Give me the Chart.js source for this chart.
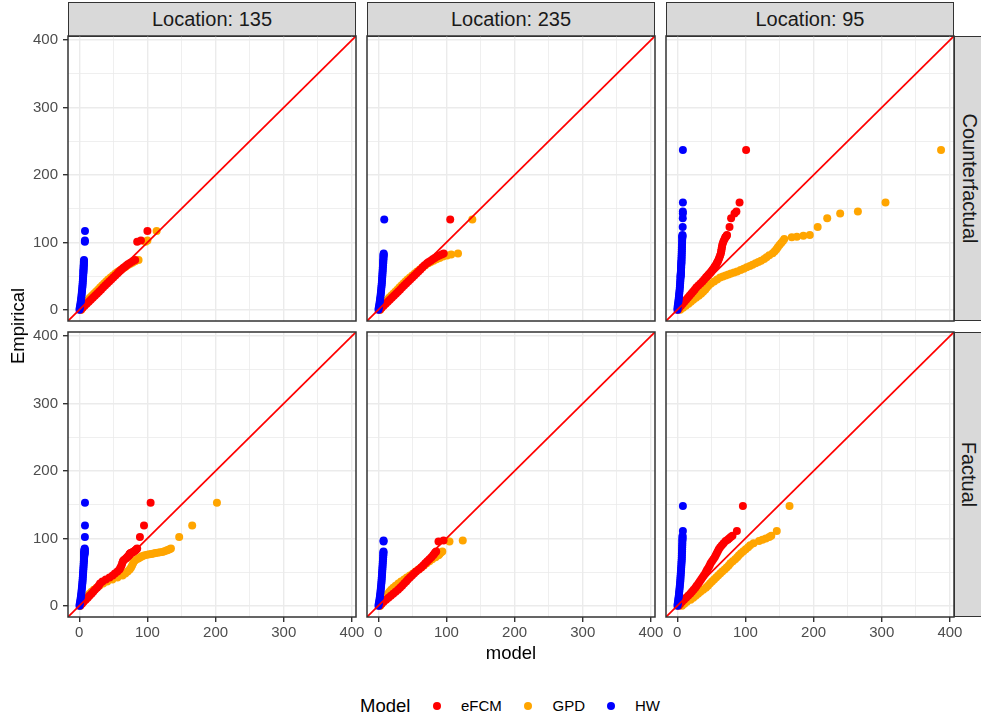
<!DOCTYPE html>
<html>
<head>
<meta charset="utf-8">
<title>Empirical vs model quantiles by location</title>
<script src="https://cdn.jsdelivr.net/npm/chart.js@4.4.0/dist/chart.umd.min.js"></script>
<style>
  body { margin: 0; background: #fff; }
  #figure {
    position: relative; width: 981px; height: 719px; overflow: hidden;
    font-family: "Liberation Sans", Arial, Helvetica, sans-serif;
  }
  .panel { position: absolute; }
  .strip {
    position: absolute; box-sizing: border-box;
    background: #d9d9d9; border: 1.5px solid #333333;
    color: #1a1a1a; font-size: 20px;
    display: flex; align-items: center; justify-content: center;
  }
  .strip span { white-space: nowrap; }
  .strip.right span { transform: rotate(90deg); }
  .label { position: absolute; white-space: nowrap; color: #000; }
  .dot { position: absolute; width: 8px; height: 8px; border-radius: 50%; }
</style>
</head>
<body>
<div id="figure"></div>
<script>
// facets and models
const locations = ["135", "235", "95"];
const scenarios = ["Counterfactual", "Factual"];
const modelNames = ["eFCM", "GPD", "HW"];

// axis ticks (shared by every panel)
const majorTicks = [0, 100, 200, 300, 400];
const minorTicks = [50, 150, 250, 350];

// ---- Location 135, Counterfactual: empirical quantiles and model quantiles
const emp_135_cf  = [0, 3, 6, 9, 12, 15, 18, 21, 24, 27, 30, 33, 36, 39, 42, 45, 48, 51, 54,
                     56, 58, 60, 62, 64, 66, 68, 70, 72, 74, 101, 103, 117];
const efcm_135_cf = [2, 5, 8, 11, 14, 17, 20, 23, 26, 29, 32, 35, 38, 41, 44, 47, 50, 53, 56,
                     58, 60, 62, 64.5, 67, 69.5, 72, 75, 78.5, 82, 85, 90.5, 100];
const gpd_135_cf  = [3, 4.5, 6.5, 8.5, 10.5, 13, 15.5, 18.5, 21.5, 24.5, 27.5, 30.5, 33.5, 36.5, 39.5, 42.5, 46, 49.5, 53,
                     56, 59, 62, 65, 68, 71, 74.5, 78, 82, 87, 97, 100, 113.5];
const hw_135_cf   = [0.3, 0.8, 1.3, 1.8, 2.2, 2.6, 3.0, 3.3, 3.6, 3.9, 4.2, 4.5, 4.8, 5.0, 5.2, 5.4, 5.6, 5.8, 6.0,
                     6.1, 6.2, 6.3, 6.4, 6.5, 6.6, 6.7, 6.8, 6.9, 7.0, 8.2, 8.3, 8.4];

// ---- Location 235, Counterfactual
const emp_235_cf  = [0, 3, 6, 9, 12, 15, 18, 21, 24, 27, 30, 33, 36, 39, 42, 45, 48, 51, 54, 57, 60, 63, 66, 69,
                     71, 73, 75, 77, 79, 80.5, 82, 83.5, 134];
const efcm_235_cf = [2, 5, 8, 11, 14, 17, 20, 23, 26, 29, 32, 35, 38, 41, 44, 47, 50, 53, 56, 59, 62, 65, 68, 71.5,
                     74, 77, 80, 83, 86.5, 89.5, 93, 96, 105.6];
const gpd_235_cf  = [3, 4.5, 6.5, 8.5, 11, 13.5, 16, 19, 22, 25, 28, 31, 34, 37, 40, 43, 46.5, 50, 53.5, 57, 61, 65, 69, 73.5,
                     77, 81, 85.5, 90, 95, 101, 107, 117, 138];
const hw_235_cf   = [0.3, 0.8, 1.3, 1.8, 2.2, 2.6, 3.0, 3.4, 3.7, 4.0, 4.3, 4.6, 4.9, 5.2, 5.4, 5.6, 5.8, 6.0, 6.2, 6.4, 6.6, 6.8, 7.0, 7.2,
                     7.3, 7.4, 7.5, 7.6, 7.7, 7.8, 7.9, 8.0, 8.8];

// ---- Location 95, Counterfactual
const emp_95_cf  = [0, 3, 6, 9, 12, 15, 18, 21, 24, 27, 30, 33, 36, 39, 42, 45, 48,
                    49.5, 51, 52.5, 54, 55.5, 57,
                    59, 61, 63, 65, 67, 69, 71, 73,
                    75.5, 78, 81, 84, 87, 90, 93, 96, 99, 102, 105,
                    107.5, 108.5, 110, 111,
                    123, 136, 143, 146, 159, 237];
const efcm_95_cf = [1, 3, 5.5, 8, 10.5, 13, 15.5, 18, 20.5, 23, 25.5, 28, 31, 34, 37, 39.5, 42,
                    43.5, 45, 46, 47.5, 49, 50,
                    51.5, 53, 54.5, 55.5, 57, 58, 59, 60,
                    61, 62, 63, 64, 64.5, 65, 65.5, 66, 67, 68, 69.5,
                    70.5, 71.5, 72.5, 73,
                    76.7, 79, 84, 86.8, 91.4, 101];
const gpd_95_cf  = [4.4, 8.5, 12.5, 16.5, 20, 23.5, 27.5, 31.5, 35, 38, 41, 43.5, 46, 49.5, 54, 58.5, 63,
                    67, 71, 75, 79, 83.5, 88,
                    93, 97.5, 102, 106.5, 110.5, 115, 119, 123,
                    127.5, 131, 135, 140, 143, 145.5, 147.5, 150, 152.5, 155, 157,
                    168, 175.5, 185, 194.5,
                    206, 220, 239, 265, 305.5, 387];
const hw_95_cf   = [0.2, 0.5, 0.8, 1.2, 1.6, 2.0, 2.3, 2.6, 2.9, 3.2, 3.5, 3.8, 4.0, 4.2, 4.4, 4.6, 4.8,
                    4.9, 5.0, 5.1, 5.2, 5.3, 5.4,
                    5.5, 5.6, 5.7, 5.8, 5.9, 6.0, 6.1, 6.2,
                    6.3, 6.4, 6.5, 6.6, 6.7, 6.8, 6.9, 7.0, 7.1, 7.2, 7.3,
                    7.4, 7.5, 7.6, 7.7,
                    8.0, 8.1, 8.2, 8.2, 8.3, 8.3];

// ---- Location 135, Factual
const emp_135_f  = [0, 3, 6, 9, 12, 15, 18, 21, 24, 27, 30, 33, 36, 39, 42, 45, 48, 51, 54, 57, 60, 63, 66,
                    68, 70, 71.5, 73, 74, 75, 75.7, 76.4, 77, 77.6, 78.2, 78.8, 79.4, 80, 81, 82, 83, 84, 85,
                    102, 119, 153];
const efcm_135_f = [1.5, 4, 6.5, 9.5, 12.5, 15, 18, 20.5, 23, 26, 28.5, 30.5, 34, 39, 44.5, 49, 52.3, 56, 59, 60.5, 62, 63, 64,
                    65.5, 68, 69.5, 71, 72, 73, 73.5, 74, 74.3, 74.5, 75.5, 77, 78, 79, 80.5, 82, 83, 84, 85,
                    89, 95, 104.7];
const gpd_135_f  = [1, 3, 5, 7, 9.5, 12, 15, 18, 21.5, 25.5, 29.5, 35, 41, 48.5, 56, 63.5, 67.5, 71, 74, 76, 77.5, 79, 80.5,
                    82.5, 86, 88.5, 91, 93, 96, 99.5, 103, 106, 109, 112, 115, 118.5, 122, 125, 128, 130, 132.5, 134.5,
                    146.6, 165.7, 202];
const hw_135_f   = [0.3, 0.8, 1.3, 1.8, 2.2, 2.6, 3.0, 3.3, 3.6, 3.9, 4.2, 4.5, 4.8, 5.0, 5.2, 5.4, 5.6, 5.8, 6.0, 6.2, 6.4, 6.6, 6.8,
                    6.9, 7.0, 7.1, 7.2, 7.25, 7.3, 7.35, 7.4, 7.45, 7.5, 7.55, 7.6, 7.65, 7.7, 7.75, 7.8, 7.85, 7.9, 8.0,
                    8.3, 8.4, 8.4];

// ---- Location 235, Factual
const emp_235_f  = [0, 3, 6, 9, 12, 15, 18, 21, 24, 27, 30, 33, 36, 39, 42, 45, 48, 51, 54, 57, 60, 63, 66, 69, 72, 75,
                    77, 79, 80.5, 95.5, 97];
const efcm_235_f = [2, 5, 8, 11.5, 15, 18.5, 22, 25.5, 29, 32, 35, 38, 41, 43.5, 46.5, 49.5, 52.5, 55.5, 59.5, 63, 66, 69, 72, 75, 78, 80.5,
                    82, 83.5, 85, 88.4, 95.8];
const gpd_235_f  = [3, 4.5, 6, 7.5, 9.5, 11.5, 14, 16.5, 19, 22, 25.5, 29.5, 33.5, 38, 42, 46.5, 51, 55, 59, 63, 67, 71, 75, 79, 84, 88.4,
                    90, 92, 94, 104.5, 124];
const hw_235_f   = [0.3, 0.8, 1.3, 1.8, 2.2, 2.6, 3.0, 3.3, 3.6, 3.9, 4.2, 4.5, 4.8, 5.0, 5.2, 5.4, 5.6, 5.8, 6.0, 6.2, 6.4, 6.6, 6.8, 7.0, 7.2, 7.4,
                    7.5, 7.6, 7.7, 7.8, 7.8];

// ---- Location 95, Factual
const emp_95_f  = [0, 3, 6, 9, 12, 15, 18, 21, 24, 27, 30, 33, 36, 39, 42, 45, 48, 51, 54, 57, 60, 63, 66, 69, 72, 75,
                   78, 81, 84, 87, 90, 93, 96, 98, 100, 102, 104, 111, 148];
const efcm_95_f = [2, 4.5, 7, 10, 13, 16, 19, 21.5, 24, 26.5, 28.5, 31, 33, 35, 37, 39, 41, 42.5, 44, 46, 47.5, 49, 51, 53, 55, 56.5,
                   58, 59.5, 61, 63, 65.5, 68, 71, 74, 76, 78.5, 81, 87.5, 96.3];
const gpd_95_f  = [7, 10.5, 14, 19.5, 23.5, 27, 30.5, 34, 38, 42, 45, 48, 51, 54, 57, 60, 63, 66, 69.5, 72.5, 75.5, 78, 81.5, 85, 88, 90.5,
                   93.5, 97, 100.5, 104, 107, 112, 120, 125, 130, 135, 138, 146, 164.7];
const hw_95_f   = [0.3, 0.7, 1.1, 1.5, 1.9, 2.3, 2.6, 2.9, 3.2, 3.5, 3.8, 4.1, 4.4, 4.6, 4.8, 5.0, 5.2, 5.4, 5.6, 5.8, 6.0, 6.2, 6.4, 6.6, 6.7, 6.8,
                   6.9, 7.0, 7.1, 7.2, 7.3, 7.4, 7.5, 7.6, 7.7, 7.75, 7.8, 8.3, 8.3];

// panels in grid order: first row counterfactual, second row factual
const panels = [
  { emp: emp_135_cf, eFCM: efcm_135_cf, GPD: gpd_135_cf, HW: hw_135_cf },
  { emp: emp_235_cf, eFCM: efcm_235_cf, GPD: gpd_235_cf, HW: hw_235_cf },
  { emp: emp_95_cf,  eFCM: efcm_95_cf,  GPD: gpd_95_cf,  HW: hw_95_cf },
  { emp: emp_135_f,  eFCM: efcm_135_f,  GPD: gpd_135_f,  HW: hw_135_f },
  { emp: emp_235_f,  eFCM: efcm_235_f,  GPD: gpd_235_f,  HW: hw_235_f },
  { emp: emp_95_f,   eFCM: efcm_95_f,   GPD: gpd_95_f,   HW: hw_95_f }
];

/* ----- layout ----- */
const colors = { eFCM: "#ff0000", GPD: "#ffa500", HW: "#0000ff" };
const AXIS_MIN = -16.5, AXIS_MAX = 406;
const PANEL_W = 288, PANEL_H = 285;
const colLeft = [68, 367, 666];
const rowTop = [36, 332];
const PAD = 14;   // room for tick labels that stick out of the plot area
const YW = 38;    // y axis band (left column only)
const XH = 30;    // x axis band (bottom row only)
const POINT_R = 4;
const FONT = "'Liberation Sans', Arial, Helvetica, sans-serif";

const gridTicks = majorTicks.concat(minorTicks).sort((a, b) => a - b);
const isMajor = (c) => c.tick && majorTicks.includes(c.tick.value);

const fig = document.getElementById("figure");

// ggplot-like panel border, drawn over the points
const framePlugin = {
  id: "panelFrame",
  afterDatasetsDraw(chart) {
    const a = chart.chartArea, ctx = chart.ctx;
    ctx.save();
    ctx.strokeStyle = "#333333";
    ctx.lineWidth = 1.5;
    ctx.strokeRect(a.left, a.top, a.right - a.left, a.bottom - a.top);
    ctx.restore();
  }
};

function axisOptions(showLabels, bandSize, horizontal) {
  return {
    type: "linear",
    min: AXIS_MIN,
    max: AXIS_MAX,
    afterBuildTicks: (axis) => { axis.ticks = gridTicks.map(v => ({ value: v })); },
    afterFit: (axis) => { if (horizontal) axis.height = bandSize; else axis.width = bandSize; },
    border: { display: false },
    grid: {
      color: "#ebebeb",
      lineWidth: (c) => isMajor(c) ? 1.4 : 0.8,
      drawTicks: showLabels,
      tickLength: 5,
      tickWidth: 1.4,
      tickColor: (c) => isMajor(c) ? "#333333" : "rgba(0,0,0,0)"
    },
    ticks: {
      display: showLabels,
      autoSkip: false,
      maxRotation: 0,
      padding: horizontal ? 2 : 5,
      color: "#4d4d4d",
      font: { family: FONT, size: 15 },
      callback: (v) => majorTicks.includes(v) ? String(v) : ""
    }
  };
}

function addLabel(text, css) {
  const d = document.createElement("div");
  d.className = "label";
  d.textContent = text;
  Object.assign(d.style, css);
  fig.appendChild(d);
  return d;
}

// strips
locations.forEach((loc, col) => {
  const s = document.createElement("div");
  s.className = "strip";
  Object.assign(s.style, { left: colLeft[col] + "px", top: "2px", width: PANEL_W + "px", height: "35px" });
  s.innerHTML = "<span>Location: " + loc + "</span>";
  fig.appendChild(s);
});
scenarios.forEach((sc, row) => {
  const s = document.createElement("div");
  s.className = "strip right";
  Object.assign(s.style, { left: (colLeft[2] + PANEL_W - 0.5) + "px", top: rowTop[row] + "px", width: "31px", height: PANEL_H + "px" });
  s.innerHTML = "<span>" + sc + "</span>";
  fig.appendChild(s);
});

// panels
panels.forEach((p, k) => {
  const row = Math.floor(k / 3), col = k % 3;
  const extraL = col === 0 ? YW : 0;
  const extraB = row === 1 ? XH : 0;

  const box = document.createElement("div");
  box.className = "panel";
  Object.assign(box.style, {
    left: (colLeft[col] - PAD - extraL) + "px",
    top: (rowTop[row] - PAD) + "px",
    width: (PANEL_W + 2 * PAD + extraL) + "px",
    height: (PANEL_H + 2 * PAD + extraB) + "px"
  });
  const canvas = document.createElement("canvas");
  box.appendChild(canvas);
  fig.appendChild(box);

  const pts = (name) => p.emp.map((e, i) => ({ x: p[name][i], y: e }));
  const identity = [{ x: AXIS_MIN, y: AXIS_MIN }, { x: AXIS_MAX, y: AXIS_MAX }];

  // index 0 is drawn on top: reference line, then HW, eFCM, GPD
  const datasets = [{
    label: "y = x",
    data: identity,
    showLine: true,
    borderColor: "#ff0000",
    borderWidth: 1.7,
    pointRadius: 0
  }];
  ["HW", "eFCM", "GPD"].forEach(m => datasets.push({
    label: m,
    data: pts(m),
    backgroundColor: colors[m],
    borderWidth: 0,
    pointRadius: POINT_R,
    pointHoverRadius: POINT_R
  }));

  new Chart(canvas, {
    type: "scatter",
    data: { datasets },
    options: {
      responsive: true,
      maintainAspectRatio: false,
      animation: false,
      events: [],
      layout: { padding: PAD },
      plugins: { legend: { display: false }, tooltip: { enabled: false } },
      scales: {
        x: axisOptions(row === 1, row === 1 ? XH : 0, true),
        y: axisOptions(col === 0, col === 0 ? YW : 0, false)
      }
    },
    plugins: [framePlugin]
  });
});

// axis titles
const yTitle = addLabel("Empirical", { left: "18px", top: "326px", fontSize: "18.5px" });
yTitle.style.transform = "translate(-50%, -50%) rotate(-90deg)";
const xTitle = addLabel("model", { left: "511px", top: "653px", fontSize: "18.5px" });
xTitle.style.transform = "translate(-50%, -50%)";

// legend
const legendY = 706;
addLabel("Model", { left: "360px", top: (legendY - 12) + "px", lineHeight: "24px", fontSize: "18.5px" });
const legendDot = [437, 528, 610.5];
const legendText = [461, 552.5, 635];
modelNames.forEach((m, i) => {
  const d = document.createElement("div");
  d.className = "dot";
  Object.assign(d.style, { left: (legendDot[i] - 4) + "px", top: (legendY - 4) + "px", background: colors[m] });
  fig.appendChild(d);
  addLabel(m, { left: legendText[i] + "px", top: (legendY - 10) + "px", lineHeight: "20px", fontSize: "15px" });
});
</script>
</body>
</html>
